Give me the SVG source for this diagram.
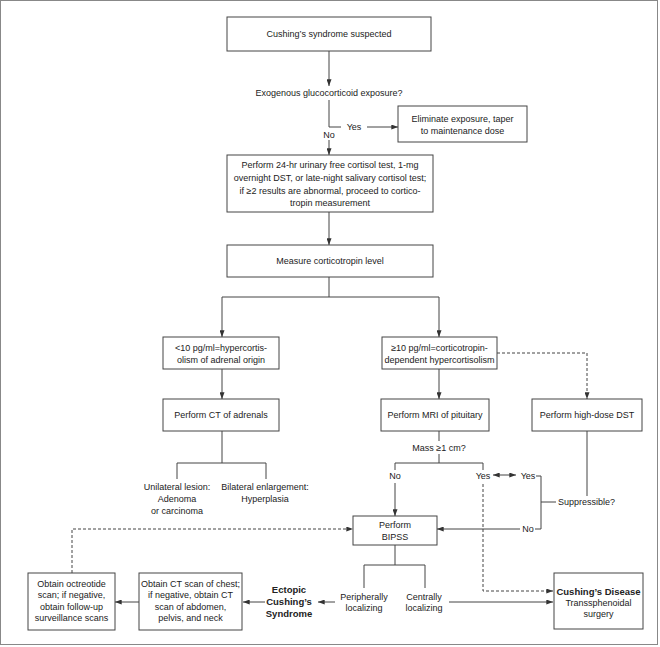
<svg xmlns="http://www.w3.org/2000/svg" width="660" height="647" viewBox="0 0 660 647">
<defs>
<marker id="ah" viewBox="0 0 8 6" refX="8" refY="3" markerWidth="7" markerHeight="5" markerUnits="userSpaceOnUse" orient="auto-start-reverse">
<path d="M0,0 L8,3 L0,6 z" fill="#333"/>
</marker>
<style>
.box{fill:#fff;stroke:#444;stroke-width:1}
.ln{fill:none;stroke:#444;stroke-width:1}
.ds{fill:none;stroke:#444;stroke-width:1;stroke-dasharray:3,2}
text{font-family:"Liberation Sans",Arial,sans-serif;font-size:9px;fill:#222;text-anchor:middle}
.b{font-weight:bold;font-size:9.5px}
.st{text-anchor:start}
</style>
</defs>
<rect width="660" height="647" fill="#fff"/>
<rect x="0.5" y="0.5" width="657" height="644" fill="none" stroke="#888" stroke-width="1"/>

<g id="connectors">
<path class="ln" d="M329,51 V86" marker-end="url(#ah)"/>
<path class="ln" d="M329,100 V127 H341"/>
<path class="ln" d="M367,127 H398" marker-end="url(#ah)"/>
<path class="ln" d="M329,140 V155" marker-end="url(#ah)"/>
<path class="ln" d="M329,212 V245" marker-end="url(#ah)"/>
<path class="ln" d="M329,277 V297"/>
<path class="ln" d="M222,337 V297 H439 V337" marker-start="url(#ah)" marker-end="url(#ah)"/>
<path class="ln" d="M222,369 V399" marker-end="url(#ah)"/>
<path class="ln" d="M439,369 V399" marker-end="url(#ah)"/>
<path class="ds" d="M497,353 H587 V399" marker-end="url(#ah)"/>
<path class="ln" d="M222,431 V463 M177,479 V463 H266 V479"/>
<path class="ln" d="M439,431 V441"/>
<path class="ln" d="M439,454 V463 M395,470 V463 H483 V470"/>
<path class="ln" d="M395,483 V516" marker-end="url(#ah)"/>
<path class="ds" d="M483,484 V591 H553" marker-end="url(#ah)"/>
<path class="ln" d="M493,475 H516" marker-start="url(#ah)" marker-end="url(#ah)"/>
<path class="ln" d="M536,476 H541 V529 H535 M541,502 H556"/>
<path class="ln" d="M587,431 V496"/>
<path class="ln" d="M520,529 H437" marker-end="url(#ah)"/>
<path class="ds" d="M72,573 V529 H353" marker-end="url(#ah)"/>
<path class="ln" d="M395,545 V565 M364,588 V565 H425 V588"/>
<path class="ln" d="M449,602 H553" marker-end="url(#ah)"/>
<path class="ln" d="M335,602 H318" marker-end="url(#ah)"/>
<path class="ln" d="M265,602 H243" marker-end="url(#ah)"/>
<path class="ln" d="M139,602 H115" marker-end="url(#ah)"/>
</g>

<g id="n-suspected">
<rect class="box" x="227" y="17" width="204" height="34"/>
<text x="329" y="37">Cushing’s syndrome suspected</text>
</g>
<g id="n-exogenous">
<text x="329" y="96">Exogenous glucocorticoid exposure?</text>
<text x="354" y="130">Yes</text>
<text x="329" y="138">No</text>
</g>
<g id="n-eliminate">
<rect class="box" x="398" y="106" width="129" height="36"/>
<text x="462.5" y="122">Eliminate exposure, taper</text>
<text x="462.5" y="134">to maintenance dose</text>
</g>
<g id="n-perform24">
<rect class="box" x="227" y="155" width="206" height="57"/>
<text x="330" y="168">Perform 24-hr urinary free cortisol test, 1-mg</text>
<text x="330" y="181">overnight DST, or late-night salivary cortisol test;</text>
<text x="330" y="194">if ≥2 results are abnormal, proceed to cortico-</text>
<text x="330" y="206">tropin measurement</text>
</g>
<g id="n-measure">
<rect class="box" x="227" y="245" width="206" height="32"/>
<text x="330" y="264">Measure corticotropin level</text>
</g>
<g id="n-low">
<rect class="box" x="163" y="337" width="116" height="32"/>
<text x="221" y="351">&lt;10 pg/ml=hypercortis-</text>
<text x="221" y="363">olism of adrenal origin</text>
</g>
<g id="n-high">
<rect class="box" x="382" y="337" width="115" height="32"/>
<text x="439.5" y="351">≥10 pg/ml=corticotropin-</text>
<text x="439.5" y="363">dependent hypercortisolism</text>
</g>
<g id="n-ct">
<rect class="box" x="163" y="399" width="116" height="32"/>
<text x="221" y="418">Perform CT of adrenals</text>
</g>
<g id="n-mri">
<rect class="box" x="381" y="399" width="108" height="32"/>
<text x="435" y="418">Perform MRI of pituitary</text>
</g>
<g id="n-hddst">
<rect class="box" x="532" y="399" width="110" height="32"/>
<text x="587" y="418">Perform high-dose DST</text>
</g>
<g id="n-lesions">
<text x="177" y="490">Unilateral lesion:</text>
<text x="177" y="502">Adenoma</text>
<text x="177" y="514">or carcinoma</text>
<text x="265" y="490">Bilateral enlargement:</text>
<text x="265" y="502">Hyperplasia</text>
</g>
<g id="n-mass">
<text x="439" y="451">Mass ≥1 cm?</text>
<text x="395" y="479">No</text>
<text x="483" y="479">Yes</text>
</g>
<g id="n-suppressible">
<text x="528" y="479">Yes</text>
<text class="st" x="558" y="505">Suppressible?</text>
<text x="528" y="532">No</text>
</g>
<g id="n-bipss">
<rect class="box" x="353" y="516" width="84" height="29"/>
<text x="395" y="528">Perform</text>
<text x="395" y="540">BIPSS</text>
</g>
<g id="n-localizing">
<text x="364" y="600">Peripherally</text>
<text x="364" y="611">localizing</text>
<text x="424" y="600">Centrally</text>
<text x="424" y="611">localizing</text>
</g>
<g id="n-ectopic">
<text class="b" x="289" y="593">Ectopic</text>
<text class="b" x="289" y="605">Cushing’s</text>
<text class="b" x="289" y="617">Syndrome</text>
</g>
<g id="n-ctchest">
<rect class="box" x="139" y="573" width="103" height="57"/>
<text x="190.5" y="587">Obtain CT scan of chest;</text>
<text x="190.5" y="598">if negative, obtain CT</text>
<text x="190.5" y="610">scan of abdomen,</text>
<text x="190.5" y="621">pelvis, and neck</text>
</g>
<g id="n-octreotide">
<rect class="box" x="28" y="573" width="87" height="57"/>
<text x="71.5" y="587">Obtain octreotide</text>
<text x="71.5" y="598">scan; if negative,</text>
<text x="71.5" y="610">obtain follow-up</text>
<text x="71.5" y="621">surveillance scans</text>
</g>
<g id="n-disease">
<rect class="box" x="554" y="573" width="89" height="56"/>
<text class="b" x="598.5" y="595">Cushing’s Disease</text>
<text x="598.5" y="606">Transsphenoidal</text>
<text x="598.5" y="617">surgery</text>
</g>
</svg>
